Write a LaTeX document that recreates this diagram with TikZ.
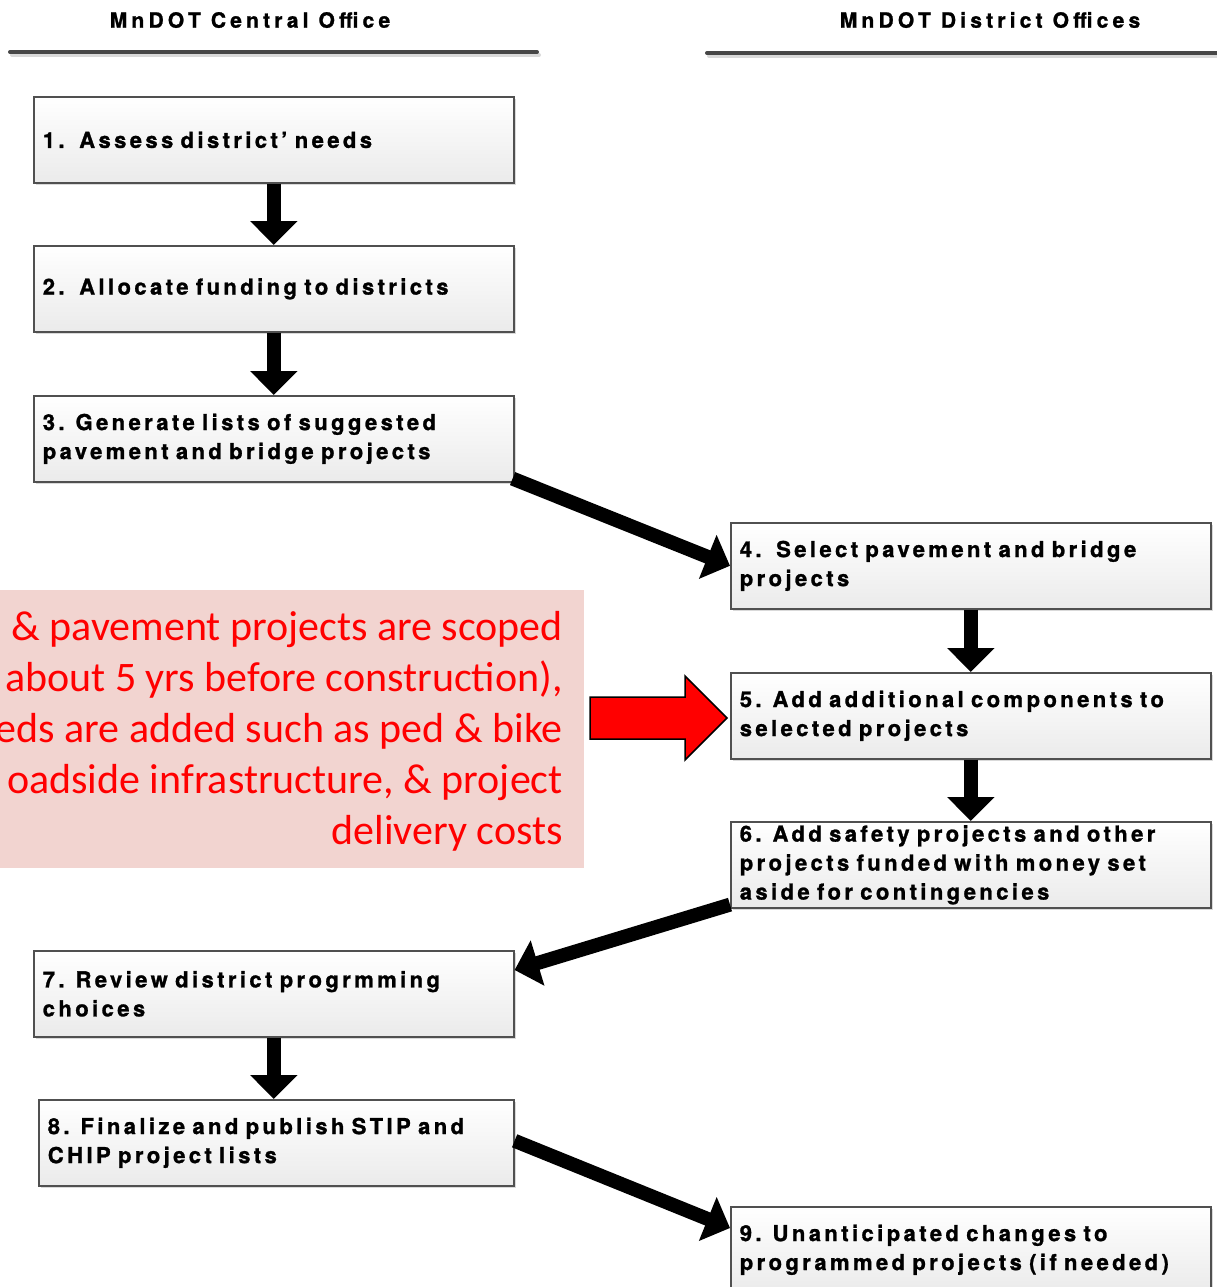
\documentclass[tikz,border=0pt]{standalone}
\usepackage{fontspec}
\setmainfont{TeX Gyre Heros}
\newfontfamily\boxfont{texgyreheros-bold.otf}[LetterSpace=15.5, FakeBold=1.2]
\newfontfamily\headfont{texgyreheros-bold.otf}[LetterSpace=20, FakeBold=1.2]
\newfontfamily\notefont{Carlito}
\usetikzlibrary{arrows.meta,shadows,calc}
\definecolor{notebg}{HTML}{F2D4D0}
\definecolor{boxline}{HTML}{505050}
\begin{document}
\begin{tikzpicture}[x=1pt,y=-1pt,
  stepbox/.style={draw=boxline, line width=1.6pt, top color=white, bottom color=black!8,
    minimum width=480pt, minimum height=86pt, text width=462pt, inner xsep=9pt, inner ysep=0pt,
    align=left, font=\boxfont\fontsize{22}{29}\selectfont,
    drop shadow={shadow xshift=2pt, shadow yshift=-2pt, opacity=0.3}, anchor=north west},
  bigarrow/.style={line width=14pt, -{Triangle[length=24pt,width=46pt]}},
  headtext/.style={font=\headfont\fontsize{21}{25}\selectfont},
  headline/.style={line width=4pt, draw=black!72, line cap=round}]
\useasboundingbox (0,0) rectangle (1216,1287);

% headers
\node[headtext] (h1) at (250,20) {MnDOT Central Office};
\node[headtext] (h2) at (990,20) {MnDOT District Offices};
\draw[headline, draw=black!15] (12,55) -- (539,55);
\draw[headline] (10,52) -- (537,52);
\draw[headline, draw=black!15] (709,56) -- (1220,56);
\draw[headline] (707,53) -- (1220,53);

% pink note
\node[fill=notebg, minimum width=584pt, minimum height=278pt, inner sep=0pt, anchor=north west] (notebox) at (0,590) {};
\node[anchor=east, align=right, text=red, inner sep=0pt,
  font=\notefont\fontsize{42}{51}\selectfont] (note) at (563,731)
  {\& pavement projects are scoped\\about 5 yrs before construction),\\eds are added such as ped \& bike\\oadside infrastructure, \& project\\delivery costs};

% boxes
\node[stepbox] (b1) at (33,96) {1.\ \ Assess district’ needs};
\node[stepbox] (b2) at (33,245) {2.\ \ Allocate funding to districts};
\node[stepbox] (b3) at (33,395) {3. Generate lists of suggested\\pavement and bridge projects};
\node[stepbox] (b4) at (730,522) {4.\ \ Select pavement and bridge\\projects};
\node[stepbox] (b5) at (730,672) {5. Add additional components to\\selected projects};
\node[stepbox] (b6) at (730,821) {6. Add safety projects and other\\projects funded with money set\\aside for contingencies};
\node[stepbox] (b7) at (33,950) {7. Review district progrmming\\choices};
\node[stepbox, minimum width=475pt, text width=457pt] (b8) at (38,1099) {8. Finalize and publish STIP and\\CHIP project lists};
\node[stepbox] (b9) at (730,1206) {9. Unanticipated changes to\\programmed projects (if needed)};

% connectors
\draw[bigarrow] (b1.south) -- (b2.north);
\draw[bigarrow] (b2.south) -- (b3.north);
\draw[bigarrow] ([xshift=-2pt,yshift=4pt]b3.south east) -- (b4.west);
\draw[bigarrow] (b4.south) -- (b5.north);
\draw[bigarrow] (b5.south) -- (b6.north);
\draw[bigarrow] ([yshift=4pt]b6.south west) -- ([yshift=-20pt]b7.north east);
\draw[bigarrow] (b7.south) -- (b7.south |- b8.north);
\draw[bigarrow] ([yshift=2pt]b8.east) -- ([yshift=-22pt]b9.north west);

% red block arrow
\draw[fill=red, line width=1.5pt, line join=miter]
  (590,697) -- (685,697) -- (685,676) -- (727,718) -- (685,760) -- (685,739) -- (590,739) -- cycle;
\end{tikzpicture}
\end{document}
